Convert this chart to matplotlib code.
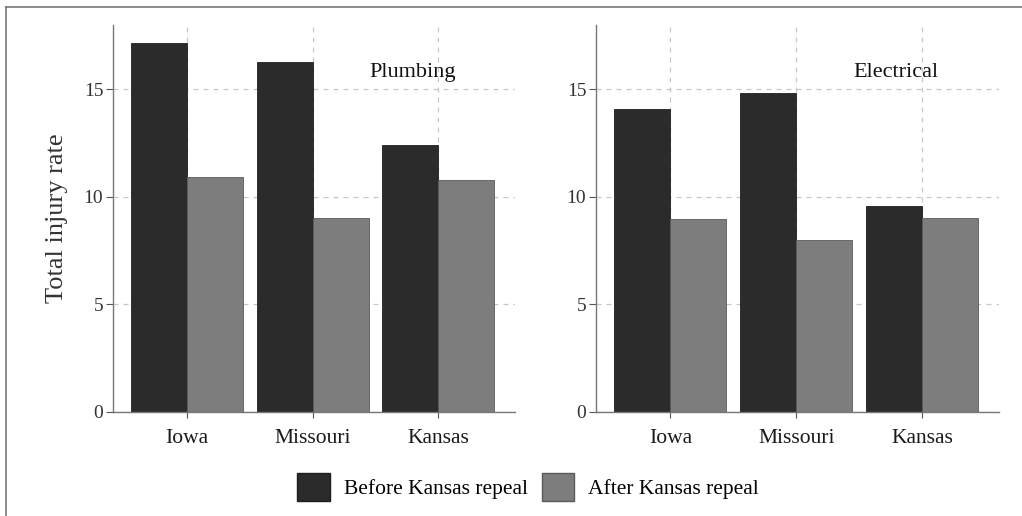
import matplotlib
matplotlib.use("Agg")
import matplotlib.pyplot as plt
import numpy as np
from matplotlib.patches import Patch
from matplotlib.lines import Line2D

states = ["Iowa", "Missouri", "Kansas"]
panels = ["Plumbing", "Electrical"]
before_plumbing = [17.15, 16.28, 12.43]
after_plumbing = [10.92, 9.04, 10.78]
before_electrical = [14.08, 14.84, 9.57]
after_electrical = [8.98, 7.99, 9.01]
series_labels = ["Before Kansas repeal", "After Kansas repeal"]
yticks = [0, 5, 10, 15]

dark = "#2b2b2b"
light = "#7d7d7d"

plt.rcParams['font.family'] = ['Liberation Serif', 'DejaVu Serif']

fig = plt.figure(figsize=(10.22, 5.16), dpi=100)
ax1 = fig.add_axes([0.1106, 0.2016, 0.3933, 0.75])
ax2 = fig.add_axes([0.5832, 0.2016, 0.3943, 0.75])

data = [(before_plumbing, after_plumbing), (before_electrical, after_electrical)]
x = np.arange(len(states))
w = 0.446
for ax, (b, a), title in zip([ax1, ax2], data, panels):
    ax.bar(x - w/2, b, width=w, color=dark, edgecolor="#1e1e1e", linewidth=0.6, zorder=2)
    ax.bar(x + w/2, a, width=w, color=light, edgecolor="#5a5a5a", linewidth=0.6, zorder=2)
    ax.set_xlim(-0.59, 2.61)
    ax.set_ylim(0, 18)
    ax.set_yticks(yticks)
    ax.set_xticks(x)
    ax.set_xticklabels(states, fontsize=15.5)
    ax.tick_params(axis='y', labelsize=14, length=5, width=0.8, colors="#555555", pad=2)
    ax.tick_params(axis='x', length=4, width=0.8, colors="#555555", pad=8)
    for lab in ax.get_xticklabels():
        lab.set_color("#1a1a1a")
    for lab in ax.get_yticklabels():
        lab.set_color("#333333")
    ax.grid(True, color="#c8c8c8", linestyle=(0, (4, 4)), linewidth=0.9, zorder=0)
    ax.set_axisbelow(True)
    for s in ["top", "right"]:
        ax.spines[s].set_visible(False)
    for s in ["left", "bottom"]:
        ax.spines[s].set_color("#777777")
        ax.spines[s].set_linewidth(1.0)
    ax.text(0.745, 0.878, title, transform=ax.transAxes, ha="center", va="center",
            fontsize=16, color="#111111")

ax1.set_ylabel("Total injury rate", fontsize=19, color="#333333", labelpad=11)

handles = [Patch(facecolor=dark, edgecolor="#1e1e1e"), Patch(facecolor=light, edgecolor="#5a5a5a")]
fig.legend(handles, series_labels, loc="center", bbox_to_anchor=(528/1022, 1 - 487/516),
           ncol=2, frameon=False, fontsize=15.5, handlelength=1.5, handleheight=1.6,
           handletextpad=0.65, columnspacing=0.65, borderpad=0.2)

# outer frame (top and left edges)
fig.add_artist(Line2D([6/1022, 1.0], [1 - 7/516, 1 - 7/516], color="#777777", linewidth=1.2,
                      transform=fig.transFigure))
fig.add_artist(Line2D([6/1022, 6/1022], [0.0, 1 - 7/516], color="#777777", linewidth=1.2,
                      transform=fig.transFigure))

fig.savefig("out.png", dpi=100)
